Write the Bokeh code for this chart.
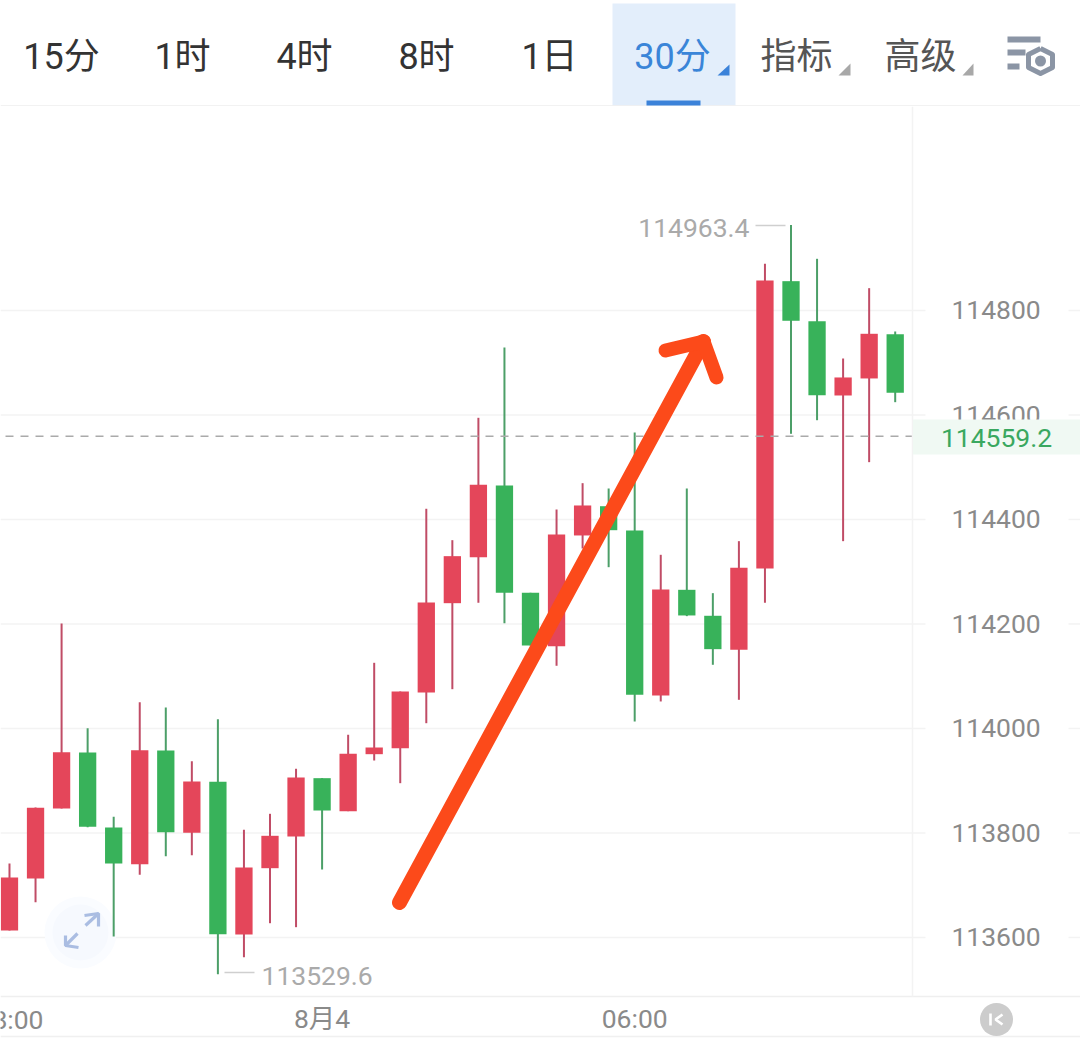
from bokeh.embed import file_html
from bokeh.resources import INLINE
from bokeh.plotting import figure
from bokeh.layouts import column
from bokeh.models import Range1d, FixedTicker, LinearAxis, ColumnDataSource
from bokeh.core.properties import value

# ---- data ----
opens = [113613.4,113712.9,113846.9,113954.1,113810.5,113740.3,113957.9,113800.4,113898.0,113605.7,
         113732.6,113793.3,113904.9,113841.7,113950.8,113962.3,114068.9,114239.8,114327.8,114465.1,
         114259.7,114157.5,114369.4,114425.4,114378.9,114063.1,114265.4,114215.7,114150.6,114306.2,
         114856.1,114779.5,114637.3,114669.9,114754.6]
closes = [113714.8,113848.2,113954.6,113811.9,113741.6,113958.5,113801.5,113898.6,113606.3,113734.0,
          113794.6,113906.2,113843.0,113951.6,113963.6,114070.8,114241.1,114329.8,114466.4,114259.7,
          114158.8,114371.3,114426.8,114379.5,114064.5,114266.0,114216.3,114151.8,114307.6,114857.4,
          114780.3,114637.9,114671.8,114755.4,114642.5]
highs = [113741.6,113848.8,114200.9,114000.6,113831.0,114050.3,114040.2,113937.4,114017.8,113806.1,
         113836.7,113922.9,113904.9,113988.0,114125.7,114070.8,114420.5,114360.4,114594.6,114729.2,
         114259.7,114419.1,114469.5,114459.3,114566.5,114332.4,114459.3,114259.0,114358.5,114889.4,
         114963.4,114898.9,114708.1,114842.7,114759.8]
lows = [113613.4,113667.5,113846.9,113811.0,113601.9,113720.0,113755.6,113757.5,113529.6,113562.3,
        113627.3,113619.7,113730.1,113841.7,113938.7,113895.3,114010.1,114075.2,114240.6,114201.5,
        114158.8,114120.0,114344.5,114308.7,114013.4,114051.7,114215.0,114121.9,114054.9,114240.6,
        114564.0,114590.0,114358.5,114509.7,114624.5]
y_ticks = [113600, 113800, 114000, 114200, 114400, 114600, 114800]
x_ticks = [12, 24]
x_labels = ["8月4", "06:00"]
first_x_label = "18:00"
last_price = 114559.2
max_price = 114963.4
min_price = 113529.6
plain_tabs = ["15分", "1时", "4时", "8时", "1日"]
active_tab = "30分"
menu_tabs = ["指标", "高级"]

FONT = "Roboto, 'Noto Sans CJK SC'"
RED, GREEN = "#e4465a", "#38b25a"
RED_WICK, GREEN_WICK = "#c04c66", "#4c9f68"
GRID = "#f3f3f3"
AXIS_TEXT = "#8a8a8a"

# ---- header ----
h = figure(width=1080, height=106, x_range=Range1d(0, 1080), y_range=Range1d(106, 0),
           output_backend="svg", toolbar_location=None, min_border=0,
           x_axis_location=None, y_axis_location=None, outline_line_color=None)
h.frame_align = False
h.grid.visible = False
h.quad(left=[612], right=[735], top=[3], bottom=[105], fill_color="#e3eefb", line_color=None)
h.line([0, 1080], [105.5, 105.5], line_color="#eeeeee", line_width=1.5)
h.quad(left=[646], right=[700], top=[100], bottom=[105], fill_color="#3b82d9", line_color=None)
h.text(x=[61, 182, 304, 426, 549], y=[56] * 5, text=plain_tabs, text_align="center",
       text_baseline="middle", text_color="#333333", text_font_size="36px", text_font=value(FONT))
h.text(x=[672], y=[56], text=[active_tab], text_align="center", text_baseline="middle",
       text_color="#3a85d8", text_font_size="36px", text_font=value(FONT))
h.text(x=[796, 920], y=[56, 56], text=menu_tabs, text_align="center", text_baseline="middle",
       text_color="#555555", text_font_size="36px", text_font=value(FONT))
h.patches(xs=[[717, 729, 729], [838, 850, 850], [962, 973, 973]],
          ys=[[75, 64, 75], [75, 63, 75], [75, 63, 75]],
          fill_color=["#3b82d9", "#a8a8a8", "#a8a8a8"], line_color=None)
h.quad(left=[1007, 1007, 1007], right=[1040, 1025, 1019], top=[36, 49, 63], bottom=[42, 55, 69],
       fill_color="#8b95a5", line_color=None)
h.line([1040, 1052, 1052, 1040, 1028, 1028, 1040], [48, 54, 67, 73, 67, 54, 48],
       line_color="#8b95a5", line_width=5, line_join="round")
h.scatter([1040], [60.5], size=11, marker="circle", fill_color="#8b95a5", line_color=None)

# ---- chart: the frame fills the figure, the axes sit inside it ----
p = figure(width=1080, height=936, frame_width=1080, frame_height=936,
           x_range=Range1d(-0.345, 41.113), y_range=Range1d(113399.0, 115190.4),
           output_backend="svg", toolbar_location=None, min_border=0,
           x_axis_location=None, y_axis_location=None, outline_line_color=None)
p.frame_align = False
p.grid.visible = False
p.extra_x_ranges["px"] = Range1d(0, 1080)
p.extra_y_ranges["px"] = Range1d(1042, 106)
PX = dict(x_range_name="px", y_range_name="px")

yax = LinearAxis(ticker=FixedTicker(ticks=y_ticks), fixed_location=34.66,
                 bounds=(113487.1, 115190.4),
                 major_tick_out=0, major_tick_in=0, minor_tick_out=0, minor_tick_in=0,
                 axis_line_color=GRID, axis_line_width=1.5, major_label_standoff=39,
                 major_label_text_font=FONT, major_label_text_font_size="26.5px",
                 major_label_text_color=AXIS_TEXT)
yax.formatter.use_scientific = False
p.add_layout(yax, "right")
xax = LinearAxis(ticker=FixedTicker(ticks=x_ticks), fixed_location=113487.1,
                 major_label_overrides=dict(zip(x_ticks, x_labels)),
                 major_tick_out=0, major_tick_in=0, minor_tick_out=0, minor_tick_in=0,
                 axis_line_color="#efefef", axis_line_width=1.5, major_label_standoff=7,
                 major_label_text_font=FONT, major_label_text_font_size="26.5px",
                 major_label_text_color=AXIS_TEXT)
p.add_layout(xax, "below")
p.text(x=[10], y=[1019], text=[first_x_label], text_align="center", text_baseline="middle",
       text_color=AXIS_TEXT, text_font=value(FONT), text_font_size="26.5px", **PX)

# grid rules
p.segment(x0=[0] * len(y_ticks), x1=[925] * len(y_ticks), y0=y_ticks, y1=y_ticks,
          line_color=GRID, line_width=1.5, x_range_name="px")
p.segment(x0=[1068] * len(y_ticks), x1=[1080] * len(y_ticks), y0=y_ticks, y1=y_ticks,
          line_color=GRID, line_width=1.5, x_range_name="px")
p.line([0, 1080], [1036, 1036], line_color="#f0f0f0", line_width=1.5, **PX)

# expand button (under the candles)
p.scatter([80], [932], size=72, marker="circle", fill_color="#fafcff", line_color=None, **PX)
p.scatter([80], [932], size=56, marker="circle", fill_color="#f6f9fe", line_color=None, **PX)
p.multi_line(xs=[[85, 98], [84, 98, 98], [77, 65], [65, 65, 78]],
             ys=[[925, 913], [915, 913, 926], [933, 945], [935, 945, 947]],
             line_color="#aabde2", line_width=3.2, **PX)

idx = list(range(len(opens)))
up = [c >= o for o, c in zip(opens, closes)]
src = ColumnDataSource(dict(
    x=idx, high=highs, low=lows,
    top=[max(o, c) for o, c in zip(opens, closes)],
    bottom=[min(o, c) for o, c in zip(opens, closes)],
    body=[RED if u else GREEN for u in up],
    wick=[RED_WICK if u else GREEN_WICK for u in up]))
p.segment("x", "high", "x", "low", source=src, line_color="wick", line_width=2)
p.vbar("x", width=0.664, top="top", bottom="bottom", source=src, fill_color="body", line_color=None)

# last price line
p.line([5, 912], [last_price, last_price], line_color="#aaaaaa", line_width=1.6,
       line_dash="8 7", x_range_name="px")

# max / min markers
p.line([755, 785], [225, 225], line_color="#cfcfcf", line_width=1.5, **PX)
p.line([224, 254], [972, 972], line_color="#cfcfcf", line_width=1.5, **PX)
p.text(x=[749], y=[227], text=[f"{max_price:.1f}"], text_align="right", text_baseline="middle",
       text_color="#aaaaaa", text_font=value(FONT), text_font_size="26.5px", **PX)
p.text(x=[261], y=[975], text=[f"{min_price:.1f}"], text_align="left", text_baseline="middle",
       text_color="#aaaaaa", text_font=value(FONT), text_font_size="26.5px", **PX)

# hand-drawn arrow on top of the candles
p.line([399, 703], [902, 341], line_color="#fc4a1a", line_width=15, line_cap="round",
       level="overlay", **PX)
p.line([665, 703, 716], [350, 341, 377], line_color="#fc4a1a", line_width=14, line_cap="round",
       line_join="round", level="overlay", **PX)

# price tag on the axis (covers part of the tick label)
p.quad(left=[912.5], right=[1080], top=[419], bottom=[454], fill_color="#f0f9f3", line_color=None,
       level="overlay", **PX)
p.text(x=[996], y=[437], text=[f"{last_price:.1f}"], text_align="center", text_baseline="middle",
       text_color="#3aa860", text_font=value(FONT), text_font_size="26.5px", level="overlay", **PX)

# collapse button
p.scatter([996], [1019], size=33, marker="circle", fill_color="#cccccc", line_color=None,
          level="overlay", **PX)
p.multi_line(xs=[[990, 990], [1002, 995, 1002]], ys=[[1013, 1025], [1014, 1019, 1024]],
             line_color="#ffffff", line_width=2.6, level="overlay", **PX)

page = column(h, p, spacing=0)
open("out.html", "w").write(file_html(page, INLINE))
